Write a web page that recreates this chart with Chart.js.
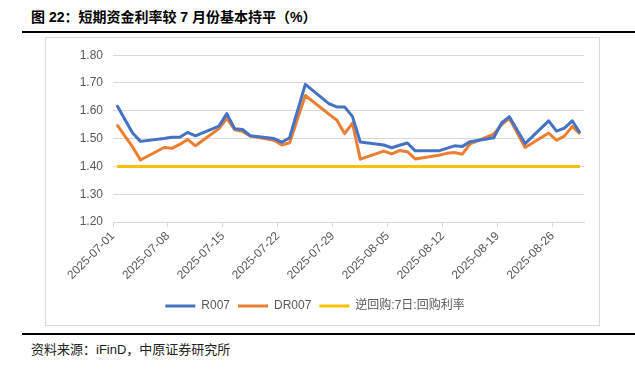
<!DOCTYPE html>
<html>
<head>
<meta charset="utf-8">
<script src="https://cdn.jsdelivr.net/npm/chart.js@4/dist/chart.umd.min.js"></script>
<style>
  html, body {
    margin: 0;
    padding: 0;
    background: #fff;
  }
  body {
    width: 635px;
    height: 371px;
    position: relative;
    overflow: hidden;
    font-family: "Liberation Sans", "Noto Sans CJK SC", sans-serif;
  }
  .title {
    position: absolute;
    left: 31px;
    top: 6px;
    font-size: 14px;
    font-weight: bold;
    color: #000;
    white-space: nowrap;
  }
  .rule {
    position: absolute;
    left: 22px;
    right: 0;
    height: 2px;
    background: #000;
  }
  .rule-top { top: 31px; }
  .rule-bottom { top: 333px; }
  .box {
    position: absolute;
    left: 45px;
    top: 37px;
    width: 553px;
    height: 287px;
    border: 1px solid #d9d9d9;
  }
  .source {
    position: absolute;
    left: 31px;
    top: 339px;
    font-size: 13px;
    color: #222;
    white-space: nowrap;
  }
</style>
</head>
<body>
<div class="title">图 22：短期资金利率较 7 月份基本持平（%）</div>
<div class="rule rule-top"></div>
<div class="box"><canvas id="chart" width="553" height="287"></canvas></div>
<div class="rule rule-bottom"></div>
<div class="source">资料来源：iFinD，中原证券研究所</div>

<script>
  // trading days, Jul 1 – Aug 29 2025
  const dates = [
    '2025-07-01', '2025-07-02', '2025-07-03', '2025-07-04',
    '2025-07-07', '2025-07-08', '2025-07-09', '2025-07-10', '2025-07-11',
    '2025-07-14', '2025-07-15', '2025-07-16', '2025-07-17', '2025-07-18',
    '2025-07-21', '2025-07-22', '2025-07-23', '2025-07-24', '2025-07-25',
    '2025-07-28', '2025-07-29', '2025-07-30', '2025-07-31', '2025-08-01',
    '2025-08-04', '2025-08-05', '2025-08-06', '2025-08-07', '2025-08-08',
    '2025-08-11', '2025-08-12', '2025-08-13', '2025-08-14', '2025-08-15',
    '2025-08-18', '2025-08-19', '2025-08-20', '2025-08-21', '2025-08-22',
    '2025-08-25', '2025-08-26', '2025-08-27', '2025-08-28', '2025-08-29',
  ];

  const r007 = [
    1.620, 1.570, 1.520, 1.490,
    1.500, 1.505, 1.505, 1.522, 1.510,
    1.545, 1.590, 1.535, 1.533, 1.510,
    1.500, 1.487, 1.503, 1.600, 1.695,
    1.626, 1.614, 1.614, 1.580, 1.488,
    1.477, 1.467, 1.476, 1.484, 1.456,
    1.456, 1.465, 1.474, 1.472, 1.489,
    1.503, 1.556, 1.579, 1.530, 1.482,
    1.564, 1.527, 1.538, 1.564, 1.520,
  ];

  const dr007 = [
    1.550, 1.510, 1.470, 1.423,
    1.468, 1.465, 1.479, 1.497, 1.474,
    1.536, 1.573, 1.532, 1.526, 1.509,
    1.494, 1.477, 1.485, 1.570, 1.655,
    1.588, 1.567, 1.518, 1.556, 1.426,
    1.455, 1.445, 1.457, 1.453, 1.427,
    1.440, 1.447, 1.450, 1.444, 1.481,
    1.516, 1.550, 1.573, 1.520, 1.468,
    1.520, 1.494, 1.509, 1.544, 1.517,
  ];

  const reverseRepo = [
    1.40, 1.40, 1.40, 1.40,
    1.40, 1.40, 1.40, 1.40, 1.40,
    1.40, 1.40, 1.40, 1.40, 1.40,
    1.40, 1.40, 1.40, 1.40, 1.40,
    1.40, 1.40, 1.40, 1.40, 1.40,
    1.40, 1.40, 1.40, 1.40, 1.40,
    1.40, 1.40, 1.40, 1.40, 1.40,
    1.40, 1.40, 1.40, 1.40, 1.40,
    1.40, 1.40, 1.40, 1.40, 1.40,
  ];

  const seriesNames = ['R007', 'DR007', '逆回购:7日:回购利率'];
  const seriesColors = ['#4472c4', '#ed7d31', '#ffc000'];

  const xTickLabels = [
    '2025-07-01', '2025-07-08', '2025-07-15', '2025-07-22', '2025-07-29',
    '2025-08-05', '2025-08-12', '2025-08-19', '2025-08-26',
  ];

  const startDay = '2025-07-01';
  const endDay = '2025-08-30';

  const DAY = 86400000;
  const dayIndex = date => (Date.parse(date) - Date.parse(startDay)) / DAY;

  // date axis: every day is one slot, points sit in the middle of it
  const toPoints = values => values.map((value, i) => ({
    x: dayIndex(dates[i]) + 0.5,
    y: value,
  }));

  const textColor = '#595959';
  const gridColor = '#d9d9d9';
  const font = { family: '"Liberation Sans", "Noto Sans CJK SC", sans-serif', size: 12 };

  const datasets = [r007, dr007, reverseRepo].map((values, i) => ({
    label: seriesNames[i],
    data: toPoints(values),
    borderColor: seriesColors[i],
    backgroundColor: seriesColors[i],
    borderWidth: 3,
    borderJoinStyle: 'round',
    pointRadius: 0,
    tension: 0,
  }));

  new Chart(document.getElementById('chart'), {
    type: 'line',
    data: { datasets },
    options: {
      responsive: false,
      animation: false,
      layout: {
        padding: { top: 14, right: 15, bottom: 3, left: 0 },
      },
      plugins: {
        legend: {
          position: 'bottom',
          labels: {
            color: textColor,
            font,
            usePointStyle: true,
            pointStyle: 'line',
            pointStyleWidth: 30,
            boxHeight: 3,
            padding: 8,
          },
        },
        tooltip: { enabled: false },
      },
      scales: {
        x: {
          type: 'linear',
          min: dayIndex(startDay),
          max: dayIndex(endDay),
          afterBuildTicks: scale => {
            scale.ticks = xTickLabels.map(label => ({ value: dayIndex(label) }));
          },
          afterFit: scale => {
            scale.height = 70;
          },
          ticks: {
            color: textColor,
            font,
            minRotation: 45,
            maxRotation: 45,
            padding: 2,
            autoSkip: false,
            callback: (value, index) => xTickLabels[index],
          },
          grid: {
            drawOnChartArea: false,
            drawTicks: true,
            tickLength: 5,
            color: gridColor,
          },
          border: { color: gridColor },
        },
        y: {
          min: 1.2,
          max: 1.8,
          afterFit: scale => {
            scale.width = 67;
          },
          ticks: {
            stepSize: 0.1,
            color: textColor,
            font,
            padding: 10,
            callback: value => value.toFixed(2),
          },
          grid: {
            color: gridColor,
            drawTicks: false,
          },
          border: { display: false },
        },
      },
    },
  });
</script>
</body>
</html>
